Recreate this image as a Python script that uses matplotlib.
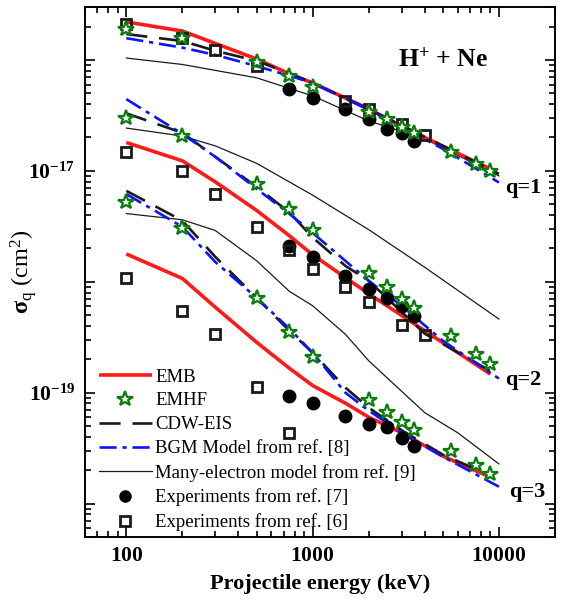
import math
import matplotlib
matplotlib.use('Agg')
import matplotlib.pyplot as plt
from matplotlib.lines import Line2D
from matplotlib.ticker import LogLocator, FuncFormatter, NullFormatter

plt.rcParams['font.family'] = ['Liberation Serif', 'DejaVu Serif']
plt.rcParams['mathtext.fontset'] = 'custom'
plt.rcParams['mathtext.rm'] = 'Liberation Serif'
plt.rcParams['mathtext.it'] = 'Liberation Serif:italic'
plt.rcParams['mathtext.bf'] = 'Liberation Serif:bold'

# ---------------- data (keV, cm^2) ----------------
# EMB (red solid)
E_emb_1 = [100, 200, 500, 750, 1000, 2000, 3000, 9000]
emb_1 = [2.20e-16, 1.82e-16, 1.02e-16, 7.5e-17, 6.2e-17, 3.62e-17, 2.52e-17, 1.04e-17]
E_emb_2 = [100, 200, 300, 500, 750, 1000, 1500, 2000, 9000]
emb_2 = [1.80e-17, 1.23e-17, 7.96e-18, 4.4e-18, 2.60e-18, 1.75e-18, 1.09e-18, 7.8e-19, 1.47e-19]
E_emb_3 = [100, 200, 300, 500, 750, 1000, 1500, 2000, 3000, 5000, 9000]
emb_3 = [1.78e-18, 1.07e-18, 5.9e-19, 2.85e-19, 1.66e-19, 1.16e-19, 8.04e-20, 6.01e-20, 4.36e-20, 2.68e-20, 1.73e-20]

# EMHF (green stars)
E_emhf = [100, 200, 500, 750, 1000, 2000, 2500, 3000, 3500, 5500, 7500, 9000]
emhf_1 = [1.89e-16, 1.57e-16, 9.6e-17, 7.2e-17, 5.7e-17, 3.42e-17, 2.92e-17, 2.49e-17, 2.21e-17, 1.49e-17, 1.15e-17, 9.9e-18]
emhf_2 = [2.99e-17, 2.07e-17, 7.64e-18, 4.52e-18, 2.92e-18, 1.19e-18, 8.9e-19, 6.99e-19, 5.75e-19, 3.26e-19, 2.23e-19, 1.82e-19]
emhf_3 = [5.28e-18, 3.08e-18, 7.13e-19, 3.49e-19, 2.11e-19, 8.59e-20, 6.65e-20, 5.4e-20, 4.64e-20, 2.96e-20, 2.25e-20, 1.85e-20]

# CDW-EIS (black dashed)
E_cdw_1 = [100, 200, 300, 500, 750, 1000, 2000, 5000, 10000]
cdw_1 = [1.71e-16, 1.48e-16, 1.21e-16, 9.8e-17, 7.6e-17, 6.2e-17, 3.6e-17, 1.68e-17, 9.4e-18]
E_cdw_2 = [100, 200, 300, 500, 750, 1000, 1500, 2000, 4000, 10000]
cdw_2 = [3.3e-17, 2.2e-17, 1.34e-17, 7.18e-18, 4.22e-18, 2.51e-18, 1.39e-18, 1.02e-18, 3.4e-19, 1.42e-19]
E_cdw_3 = [100, 200, 300, 500, 750, 1000, 1500, 2000, 3000, 5000, 9000]
cdw_3 = [6.6e-18, 3.55e-18, 1.68e-18, 7.18e-19, 3.62e-19, 2.29e-19, 1.11e-19, 7.33e-20, 4.59e-20, 2.76e-20, 1.79e-20]

# BGM model (blue dash-dot)
E_bgm_1 = [100, 200, 300, 500, 750, 1000, 2000, 5000, 10000]
bgm_1 = [1.57e-16, 1.29e-16, 1.11e-16, 8.8e-17, 7.2e-17, 6.2e-17, 3.55e-17, 1.58e-17, 7.85e-18]
E_bgm_2 = [100, 200, 300, 500, 750, 1000, 2000, 3000, 5000, 10000]
bgm_2 = [4.43e-17, 2.15e-17, 1.34e-17, 6.9e-18, 4.1e-18, 2.76e-18, 1.02e-18, 6.08e-19, 2.94e-19, 1.34e-19]
E_bgm_3 = [100, 200, 300, 500, 750, 1000, 1500, 2000, 3000, 5000, 10000]
bgm_3 = [6.17e-18, 3.13e-18, 1.51e-18, 7.18e-19, 3.78e-19, 2.29e-19, 1.0e-19, 6.89e-20, 4.36e-20, 2.65e-20, 1.42e-20]

# Many-electron model (thin black)
E_me_1 = [100, 200, 500, 1000, 2000, 4000, 10000]
me_1 = [1.04e-16, 9.1e-17, 6.9e-17, 4.74e-17, 2.82e-17, 1.94e-17, 9.0e-18]
E_me_2 = [100, 200, 300, 500, 1000, 2000, 4000, 10000]
me_2 = [2.43e-17, 2.06e-17, 1.68e-17, 1.17e-17, 6.04e-18, 2.95e-18, 1.35e-18, 4.61e-19]
E_me_3 = [100, 200, 300, 500, 750, 1000, 1500, 2000, 4000, 6000, 10000]
me_3 = [4.12e-18, 3.62e-18, 2.90e-18, 1.55e-18, 8.2e-19, 6.08e-19, 3.36e-19, 1.94e-19, 6.6e-20, 4.36e-20, 2.28e-20]

# Experiments ref. [7] (filled circles)
E_exp7 = [750, 1000, 1500, 2000, 2500, 3000, 3500]
exp7_1 = [5.44e-17, 4.57e-17, 3.6e-17, 2.92e-17, 2.40e-17, 2.21e-17, 1.84e-17]
exp7_2 = [2.11e-18, 1.68e-18, 1.13e-18, 8.6e-19, 7.13e-19, 6.08e-19, 4.94e-19]
exp7_3 = [9.4e-20, 8.0e-20, 6.21e-20, 5.22e-20, 4.87e-20, 3.91e-20, 3.33e-20]

# Experiments ref. [6] (open squares)
E_exp6_1 = [100, 200, 300, 500, 1500, 2000, 3000, 4000]
exp6_1 = [2.10e-16, 1.58e-16, 1.22e-16, 8.8e-17, 4.28e-17, 3.6e-17, 2.64e-17, 2.11e-17]
E_exp6_2 = [100, 200, 300, 500, 750, 1000, 1500, 2000, 3000, 4000]
exp6_2 = [1.49e-17, 9.9e-18, 6.17e-18, 3.13e-18, 1.93e-18, 1.30e-18, 8.9e-19, 6.52e-19, 4.1e-19, 3.33e-19]
E_exp6_3 = [100, 200, 300, 500, 750]
exp6_3 = [1.09e-18, 5.48e-19, 3.38e-19, 1.12e-19, 4.3e-20]

labels = ['EMB', 'EMHF', 'CDW-EIS', 'BGM Model from ref. [8]',
          'Many-electron model from ref. [9]', 'Experiments from ref. [7]',
          'Experiments from ref. [6]']

# ---------------- styles ----------------
RED = '#ff1a1a'
BLUE = '#0a14ff'
BLK = '#1a1a1a'
GRN = '#0a7d0a'
emb_kw = dict(color=RED, lw=2.6, solid_capstyle='butt', zorder=3)
cdw_kw = dict(color=BLK, lw=1.9, linestyle=(0, (8, 4.5)), zorder=4)
bgm_kw = dict(color=BLUE, lw=1.9, linestyle=(0, (6.5, 2.2, 1.6, 2.2)), zorder=4)
me_kw = dict(color=BLK, lw=0.9, zorder=2)
emhf_kw = dict(ls='none', marker='*', ms=11.5, mfc='white', mec=GRN, mew=1.6, zorder=7)
exp7_kw = dict(ls='none', marker='o', ms=9, mfc='black', mec='black', zorder=5)
exp6_kw = dict(ls='none', marker='s', ms=7.5, mfc='none', mec=BLK, mew=2.0, zorder=6)

fig = plt.figure(figsize=(5.61, 6.07), dpi=100)
ax = fig.add_axes([85/561, 1-537/607, 470/561, 530/607])

for E, v in [(E_me_1, me_1), (E_me_2, me_2), (E_me_3, me_3)]:
    ax.plot(E, v, **me_kw)
for E, v in [(E_emb_1, emb_1), (E_emb_2, emb_2), (E_emb_3, emb_3)]:
    ax.plot(E, v, **emb_kw)
for E, v in [(E_cdw_1, cdw_1), (E_cdw_2, cdw_2), (E_cdw_3, cdw_3)]:
    ax.plot(E, v, **cdw_kw)
for E, v in [(E_bgm_1, bgm_1), (E_bgm_2, bgm_2), (E_bgm_3, bgm_3)]:
    ax.plot(E, v, **bgm_kw)
for v in [exp7_1, exp7_2, exp7_3]:
    ax.plot(E_exp7, v, **exp7_kw)
for E, v in [(E_exp6_1, exp6_1), (E_exp6_2, exp6_2), (E_exp6_3, exp6_3)]:
    ax.plot(E, v, **exp6_kw)
for v in [emhf_1, emhf_2, emhf_3]:
    ax.plot(E_emhf, v, **emhf_kw)

ax.set_xscale('log')
ax.set_yscale('log')
ax.set_xlim(60, 20000)
ax.set_ylim(5e-21, 3e-16)

ax.xaxis.set_major_locator(LogLocator(base=10, numticks=10))
ax.xaxis.set_minor_locator(LogLocator(base=10, subs=range(2, 10), numticks=20))
ax.yaxis.set_major_locator(LogLocator(base=10, numticks=10))
ax.yaxis.set_minor_locator(LogLocator(base=10, subs=range(2, 10), numticks=20))
ax.xaxis.set_minor_formatter(NullFormatter())
ax.yaxis.set_minor_formatter(NullFormatter())

def xfmt(v, pos):
    return r'$\mathbf{%d}$' % int(round(v))

def yfmt(v, pos):
    e = int(round(math.log10(v)))
    if e in (-17, -19):
        return r'$\mathbf{10^{%d}}$' % e
    return ''

ax.xaxis.set_major_formatter(FuncFormatter(xfmt))
ax.yaxis.set_major_formatter(FuncFormatter(yfmt))

ax.tick_params(which='both', direction='in', top=True, right=True, width=1.2)
ax.tick_params(which='major', length=7, labelsize=15.5, pad=7)
ax.tick_params(which='minor', length=4)
for s in ax.spines.values():
    s.set_linewidth(1.4)

ax.set_xlabel('Projectile energy (keV)', fontsize=16, fontweight='bold', labelpad=6)
ax.set_ylabel(r'$\mathbf{\sigma}_\mathregular{q}$ (cm$^\mathregular{2}$)', fontsize=17.5)
ax.yaxis.set_label_coords(-0.097, 0.5)

ax.text(0.762, 0.9, r'H$^{\mathbf{+}}$ + Ne', transform=ax.transAxes, fontsize=18.5,
        fontweight='bold', ha='center', va='center')
ax.text(0.932, 0.658, 'q=1', transform=ax.transAxes, fontsize=16, fontweight='bold',
        ha='center', va='center')
ax.text(0.932, 0.296, 'q=2', transform=ax.transAxes, fontsize=16, fontweight='bold',
        ha='center', va='center')
ax.text(0.94, 0.085, 'q=3', transform=ax.transAxes, fontsize=16, fontweight='bold',
        ha='center', va='center')

handles = [
    Line2D([], [], **emb_kw),
    Line2D([], [], **emhf_kw),
    Line2D([], [], **cdw_kw),
    Line2D([], [], **bgm_kw),
    Line2D([], [], **me_kw),
    Line2D([], [], **exp7_kw),
    Line2D([], [], **exp6_kw),
]
handles[5].set_markersize(8)
handles[6].set_markersize(6.5)
ax.legend(handles, labels, loc='upper left', bbox_to_anchor=(0.03, 0.318),
          frameon=False, fontsize=13.5, handlelength=2.8, handletextpad=0.2,
          labelspacing=0.36, borderpad=0, borderaxespad=0, numpoints=1)

fig.savefig('out.png', dpi=100)
